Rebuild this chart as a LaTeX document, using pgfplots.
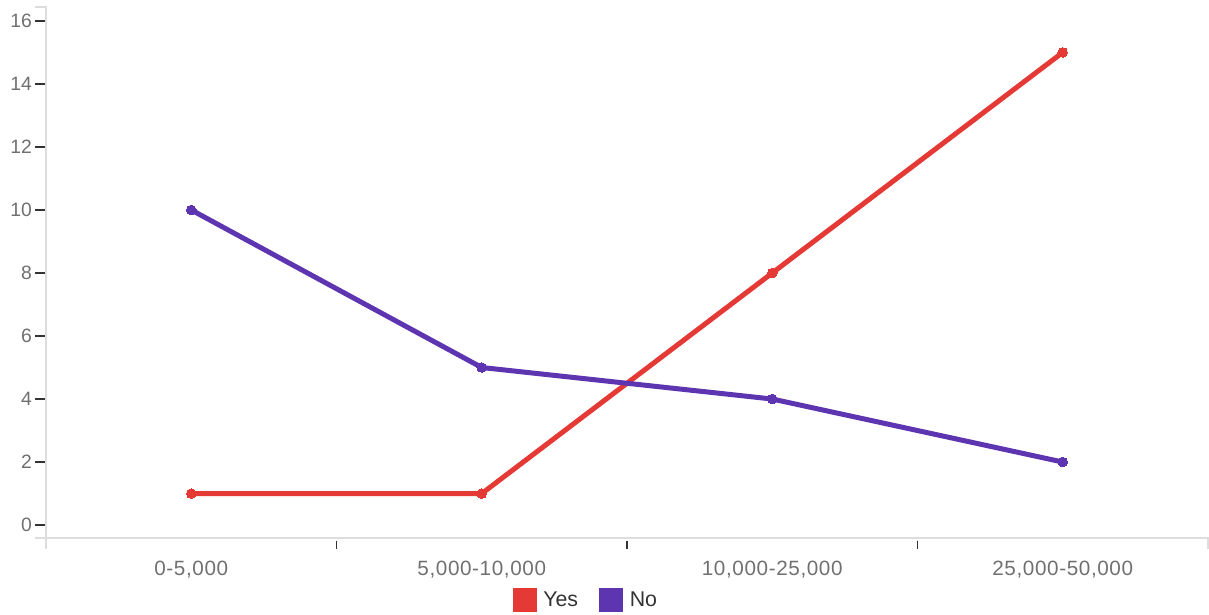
\documentclass[border=0pt]{standalone}
\usepackage{pgfplots}
\pgfplotsset{compat=1.18}
\usepackage{fontspec}
\setmainfont{Liberation Sans}
\definecolor{yescol}{HTML}{E53935}
\definecolor{nocol}{HTML}{5E35B1}
\definecolor{ticktext}{HTML}{707070}
\definecolor{domaincol}{HTML}{DDDDDD}
\definecolor{tickcol}{HTML}{333333}

\begin{document}
\begin{tikzpicture}
\begin{axis}[
  at={(0,0)}, anchor=south west,
  scale only axis, width=871.5pt, height=398.25pt,
  xmin=-0.5, xmax=3.5, ymin=-0.41, ymax=16.44,
  axis line style={draw=none},
  clip=false,
  xtick pos=bottom, ytick pos=left,
  xtick={0,1,2,3},
  xticklabels={{0-5,000},{5,000-10,000},{10,000-25,000},{25,000-50,000}},
  x tick style={draw=none},
  xticklabel style={font=\fontsize{15.5}{18}\selectfont\addfontfeature{LetterSpace=3}, text=ticktext, yshift=-6pt},
  ytick={0,2,...,16},
  tick align=outside,
  major tick length=8pt,
  y tick style={draw=tickcol, line width=1pt},
  yticklabel style={font=\fontsize{14.5}{17}\selectfont, text=ticktext, xshift=1pt},
  /pgf/number format/assume math mode=true,
  legend columns=2,
  legend style={draw=none, fill=none, at={(0.465,-0.117)}, anchor=center,
    font=\fontsize{16}{19}\selectfont, text=tickcol,
    /tikz/every odd column/.append style={column sep=3pt},
    /tikz/every even column/.append style={column sep=14pt}},
  legend image code/.code={\fill (0pt,-7pt) rectangle (14pt,7pt);},
]
% respondents answering yes, by range
\addplot[color=yescol, line width=3.75pt, mark=*, mark size=3.6pt,
  mark options={line width=0pt}] coordinates {(0,1) (1,1) (2,8) (3,15)};
\addlegendentry{Yes}
% respondents answering no, by range
\addplot[color=nocol, line width=3.75pt, mark=*, mark size=3.6pt,
  mark options={line width=0pt}] coordinates {(0,10) (1,5) (2,4) (3,2)};
\addlegendentry{No}

% axis domain paths with outer ticks
\draw[domaincol, line width=1.5pt] ([xshift=-8pt]rel axis cs:0,1) -- (rel axis cs:0,1)
  -- (rel axis cs:0,0) -- ([xshift=-8pt]rel axis cs:0,0);
\draw[domaincol, line width=1.5pt] ([yshift=-8pt]rel axis cs:0,0) -- (rel axis cs:0,0)
  -- (rel axis cs:1,0) -- ([yshift=-8pt]rel axis cs:1,0);
% category separators
\pgfplotsinvokeforeach{0.5,1.5,2.5}{
  \draw[tickcol, line width=1pt] ([yshift=-2pt]axis cs:#1,-0.41) -- ([yshift=-8.5pt]axis cs:#1,-0.41);
}
\end{axis}
\pgfresetboundingbox
\useasboundingbox (-34.5pt,-57pt) rectangle (872.25pt,403.5pt);
\end{tikzpicture}
\end{document}
